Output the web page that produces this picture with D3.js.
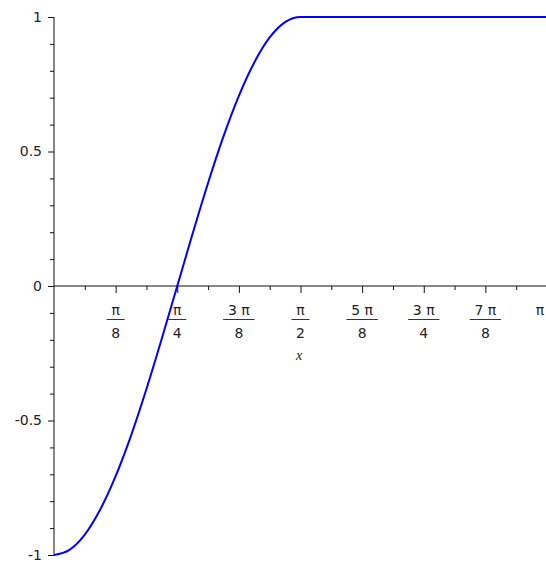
<!DOCTYPE html>
<html>
<head>
<meta charset="utf-8">
<script src="https://cdn.jsdelivr.net/npm/d3@7"></script>
<style>
  body { margin: 0; background: #fff; }
  text { font-family: "DejaVu Sans", sans-serif; font-size: 14px; fill: #222; }
</style>
</head>
<body>
<svg width="546" height="562"></svg>
<script>
// x positions in units of pi, y values
const xPi = [0, 0.03125, 0.0625, 0.09375, 0.125, 0.15625, 0.1875, 0.21875, 0.25,
  0.28125, 0.3125, 0.34375, 0.375, 0.40625, 0.4375, 0.46875, 0.5, 1]
const yVals = [-1, -0.981, -0.924, -0.831, -0.707, -0.556, -0.383, -0.195, 0,
  0.195, 0.383, 0.556, 0.707, 0.831, 0.924, 0.981, 1, 1]

// x ticks (multiples of pi/8)
const xTickPi = [0.125, 0.25, 0.375, 0.5, 0.625, 0.75, 0.875, 1]
const xTickNum = ["π", "π", "3 π", "π", "5 π", "3 π", "7 π", "π"]
const xTickDen = ["8", "4", "8", "2", "8", "4", "8", ""]
const xMinorPi = [0.0625, 0.1875, 0.3125, 0.4375, 0.5625, 0.6875, 0.8125, 0.9375]

// y ticks
const yMajor = [-1, -0.5, 0, 0.5, 1]
const yMajorLabels = ["-1", "-0.5", "0", "0.5", "1"]
const yMinor = [-0.9, -0.8, -0.7, -0.6, -0.4, -0.3, -0.2, -0.1, 0.1, 0.2, 0.3, 0.4, 0.6, 0.7, 0.8, 0.9]

var svg = d3.select("svg")

var x = d3.scaleLinear().domain([0, Math.PI]).range([54, 547])
var y = d3.scaleLinear().domain([-1, 1]).range([555, 17])

// y axis
var yMin = svg.append("g").attr("transform", "translate(54,0)")
  .call(d3.axisLeft(y).tickValues(yMinor).tickSize(4).tickFormat(""))
yMin.select(".domain").remove()
var yAx = svg.append("g").attr("transform", "translate(54,0)")
  .call(d3.axisLeft(y).tickValues(yMajor).tickSize(6).tickPadding(6)
    .tickFormat((d, i) => yMajorLabels[i]))
yAx.select(".domain").attr("d", "M0," + y(1) + "V" + y(-1))
yAx.selectAll("text").style("font-size", "14px").style("font-family", "DejaVu Sans")

// x axis
var xMin = svg.append("g").attr("transform", "translate(0," + y(0) + ")")
  .call(d3.axisBottom(x).tickValues(xMinorPi.map(v => v * Math.PI)).tickSize(4).tickFormat(""))
xMin.select(".domain").remove()
var xAx = svg.append("g").attr("transform", "translate(0," + y(0) + ")")
  .call(d3.axisBottom(x).tickValues(xTickPi.map(v => v * Math.PI)).tickSize(7).tickFormat(""))
xAx.select(".domain").attr("d", "M" + x(0) + ",0H546")
svg.selectAll(".tick line").attr("stroke", "#111")
svg.selectAll(".domain").attr("stroke", "#111")

// fraction labels
xTickPi.forEach((v, i) => {
  var cx = Math.min(x(v * Math.PI), 540)
  var num = svg.append("text").attr("x", cx).attr("y", 315)
    .attr("text-anchor", "middle").text(xTickNum[i])
  if (xTickDen[i] !== "") {
    var w = num.node().getBBox().width
    svg.append("line").attr("x1", cx - w / 2 - 4.5).attr("x2", cx + w / 2 + 4.5)
      .attr("y1", 319.5).attr("y2", 319.5).attr("stroke", "#333").attr("stroke-width", 1)
    svg.append("text").attr("x", cx).attr("y", 338)
      .attr("text-anchor", "middle").text(xTickDen[i])
  }
})

svg.append("text").attr("x", 299).attr("y", 360).attr("text-anchor", "middle")
  .style("font-family", "Liberation Serif").style("font-style", "italic").style("font-size", "14px")
  .text("x")

// curve
var line = d3.line()
  .x((d, i) => x(xPi[i] * Math.PI))
  .y(d => y(d))
  .curve(d3.curveMonotoneX)

svg.append("path").datum(yVals)
  .attr("d", line)
  .attr("fill", "none")
  .attr("stroke", "#0000ff")
  .attr("stroke-width", 2)
</script>
</body>
</html>
